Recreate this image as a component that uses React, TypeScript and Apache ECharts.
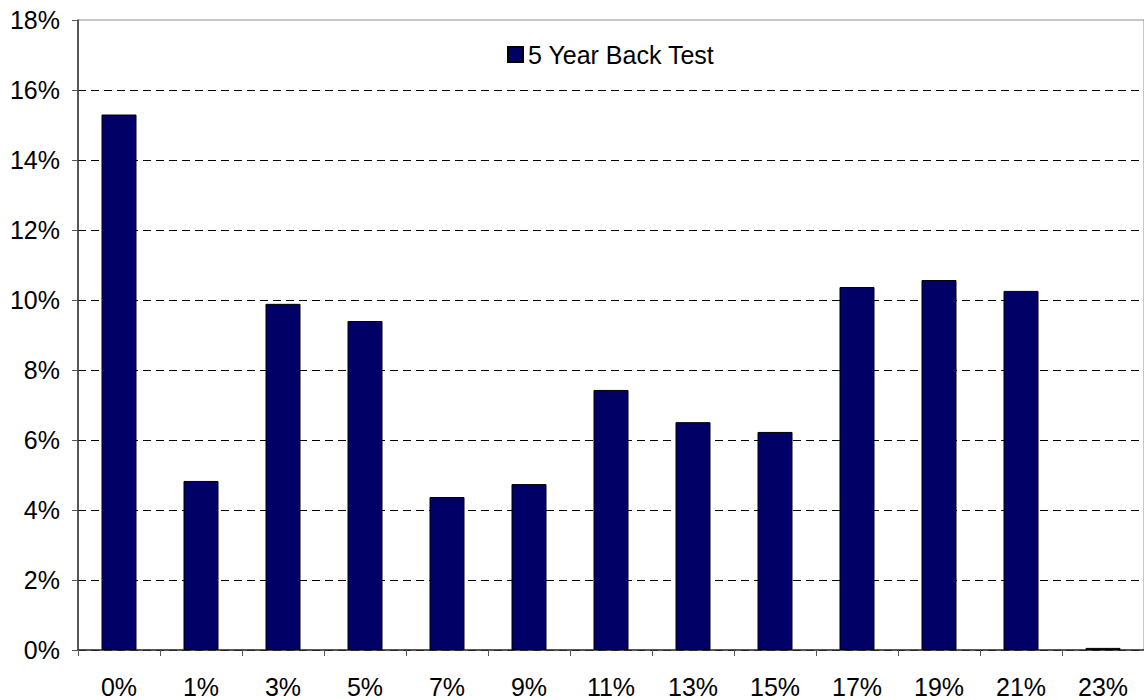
import React, { useEffect, useRef } from "react";
import * as echarts from "echarts";

const categories = ["0%", "1%", "3%", "5%", "7%", "9%", "11%", "13%", "15%", "17%", "19%", "21%", "23%"];
const backTest5Y = [15.3, 4.83, 9.89, 9.4, 4.37, 4.74, 7.43, 6.51, 6.23, 10.37, 10.57, 10.26, 0.06];
const seriesName = "5 Year Back Test";

export default function App() {
  const ref = useRef<HTMLDivElement>(null);
  useEffect(() => {
    if (!ref.current) return;
    const chart = echarts.init(ref.current, null, { renderer: "svg" });
    const font = "Liberation Sans, Arial, Helvetica, sans-serif";
    const splitColors = ["#000", "#000", "#000", "#000", "#000", "#000", "#000", "#000", "#000", "rgba(0,0,0,0)"];
    chart.setOption({
      animation: false,
      backgroundColor: "#fff",
      textStyle: { fontFamily: font },
      grid: { left: 78, top: 20, width: 1067, bottom: 50, show: true, borderColor: "#8c8c8c", borderWidth: 1 },
      legend: {
        data: [seriesName],
        top: 37,
        left: 502,
        itemWidth: 15,
        itemHeight: 15,
        itemGap: 4,
        textStyle: { fontSize: 25, color: "#000", fontFamily: font },
        icon: "rect",
      },
      xAxis: {
        type: "category",
        data: categories,
        boundaryGap: true,
        axisLine: { lineStyle: { color: "#333", width: 1.5 } },
        axisTick: { show: true, length: 6, inside: false, alignWithLabel: false, lineStyle: { color: "#555" } },
        axisLabel: { fontSize: 25, color: "#000", margin: 24, fontFamily: font, interval: 0 },
      },
      yAxis: {
        type: "value",
        min: 0,
        max: 18,
        interval: 2,
        axisLine: { show: true, lineStyle: { color: "#333", width: 1.5 } },
        axisTick: { show: true, length: 6, lineStyle: { color: "#555" } },
        axisLabel: { fontSize: 25, color: "#000", margin: 18, formatter: "{value}%", fontFamily: font },
        splitLine: { show: true, lineStyle: { color: splitColors, type: [8, 5], width: 1 } },
      },
      series: [
        {
          name: seriesName,
          type: "bar",
          data: backTest5Y,
          barWidth: 35,
          itemStyle: { color: "#000066", borderColor: "#000", borderWidth: 1 },
        },
      ],
    });
    return () => chart.dispose();
  }, []);
  return <div ref={ref} style={{ position: "fixed", left: 0, top: 0, width: 1144, height: 700 }} />;
}
